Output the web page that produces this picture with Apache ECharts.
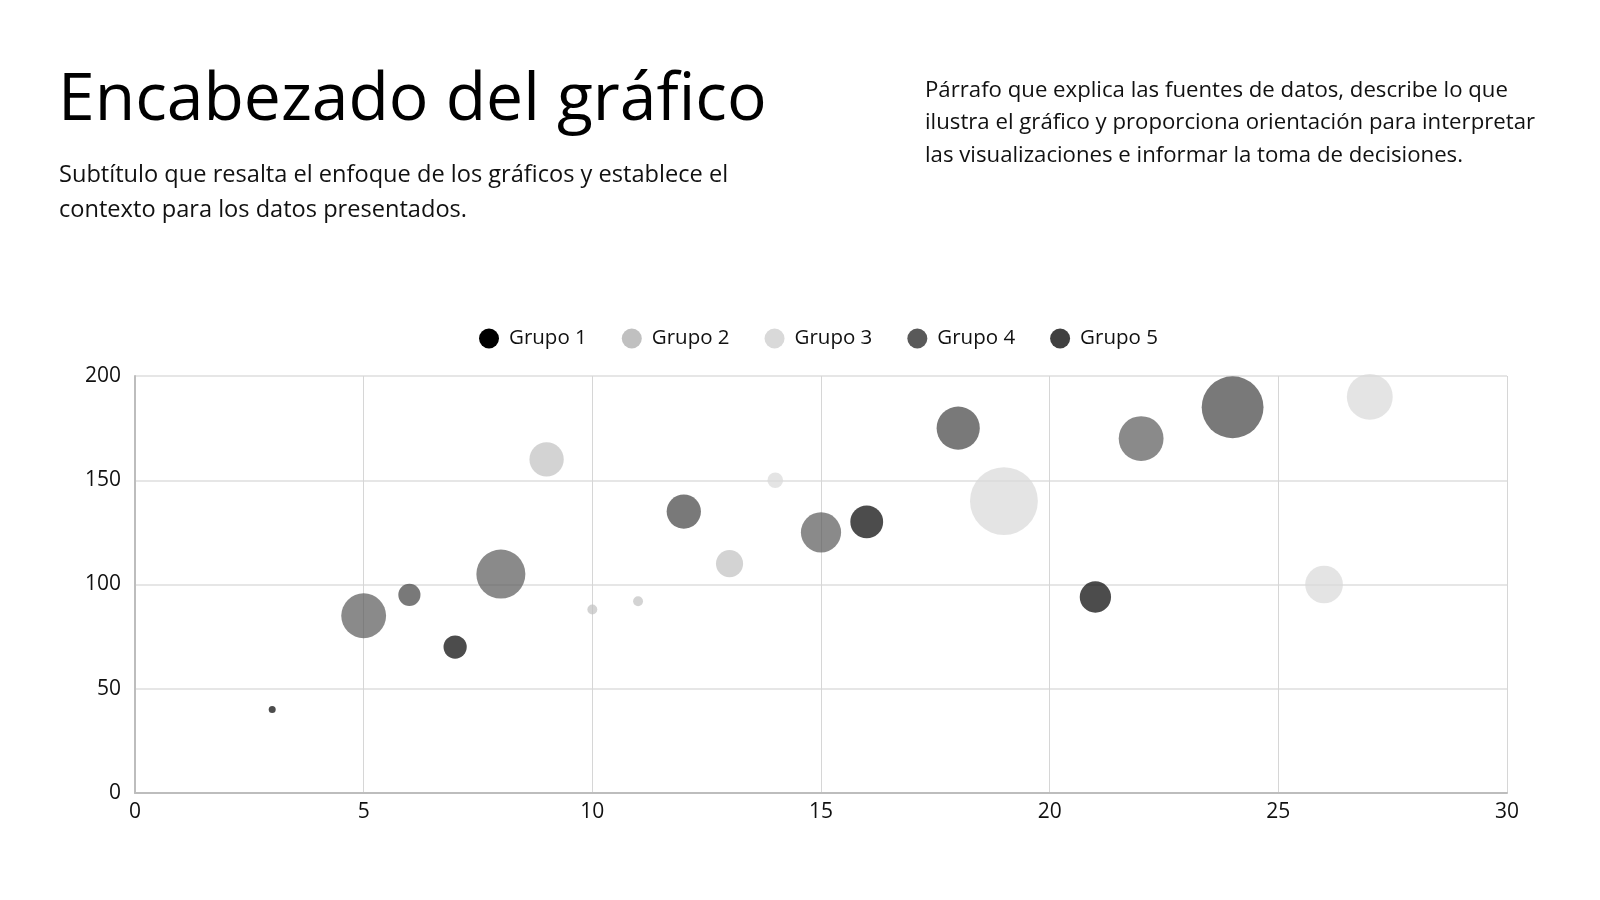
<!DOCTYPE html>
<html>
<head>
<meta charset="utf-8">
<script src="https://cdn.jsdelivr.net/npm/echarts@6/dist/echarts.min.js"></script>
<style>
  html, body { margin: 0; padding: 0; background: #fff; }
  #chart { width: 1600px; height: 900px; }
</style>
</head>
<body>
<div id="chart"></div>
<script>
// data: [x, y, size]
const groupNames = ["Grupo 1", "Grupo 2", "Grupo 3", "Grupo 4", "Grupo 5"];
const groupColors = ["#000000", "#c0c0c0", "#d9d9d9", "#595959", "#404040"];

const grupo1 = [[3, 40, 1], [7, 70, 11], [16, 130, 22], [21, 94, 20]];
const grupo2 = [[9, 160, 24], [10, 88, 2], [11, 92, 2], [13, 110, 15]];
const grupo3 = [[14, 150, 5], [19, 140, 94], [26, 100, 29], [27, 190, 43]];
const grupo4 = [[5, 85, 41], [8, 105, 49], [15, 125, 33], [22, 170, 41]];
const grupo5 = [[6, 95, 10], [12, 135, 24], [18, 175, 38], [24, 185, 78]];
const groups = [grupo1, grupo2, grupo3, grupo4, grupo5];

const xTicks = [0, 30, 5];   // min, max, interval
const yTicks = [0, 200, 50];

const font = "Open Sans";
const chart = echarts.init(document.getElementById("chart"));

chart.setOption({
  backgroundColor: "#fff",
  textStyle: { fontFamily: font },
  title: [
    {
      text: "Encabezado del gráfico",
      left: 53, top: 63,
      textStyle: { fontSize: 66, fontWeight: "normal", color: "#000", fontFamily: font }
    },
    {
      text: "Subtítulo que resalta el enfoque de los gráficos y establece el\ncontexto para los datos presentados.",
      left: 54, top: 153,
      textStyle: { fontSize: 23.6, lineHeight: 35, fontWeight: "normal", color: "#111", fontFamily: font }
    },
    {
      text: "Párrafo que explica las fuentes de datos, describe lo que\nilustra el gráfico y proporciona orientación para interpretar\nlas visualizaciones e informar la toma de decisiones.",
      left: 920, top: 69,
      textStyle: { fontSize: 22.2, lineHeight: 32.5, fontWeight: "normal", color: "#111", fontFamily: font }
    }
  ],
  legend: {
    top: 323,
    left: 474,
    icon: "circle",
    itemWidth: 20,
    itemHeight: 20,
    itemGap: 35,
    itemStyle: { opacity: 1 },
    textStyle: { fontSize: 20.5, color: "#111", fontFamily: font, padding: [0, 0, 0, 5] },
    data: groupNames
  },
  grid: { left: 135, right: 93, top: 376, bottom: 107 },
  xAxis: {
    type: "value",
    min: xTicks[0], max: xTicks[1], interval: xTicks[2],
    axisLine: { show: true, lineStyle: { color: "#bdbdbd", width: 2 } },
    axisTick: { show: false },
    splitLine: { show: true, lineStyle: { color: "#d6d6d6", width: 1 } },
    axisLabel: { fontSize: 21, color: "#111", margin: 9, fontFamily: font }
  },
  yAxis: {
    type: "value",
    min: yTicks[0], max: yTicks[1], interval: yTicks[2],
    axisLine: { show: true, lineStyle: { color: "#bdbdbd", width: 2 } },
    axisTick: { show: false },
    splitLine: { show: true, lineStyle: { color: "#dedede", width: 1.5 } },
    axisLabel: { fontSize: 21, color: "#111", margin: 14, fontFamily: font }
  },
  series: groups.map((g, i) => ({
    name: groupNames[i],
    type: "scatter",
    data: g,
    symbolSize: d => Math.sqrt(d[2]) * 7,
    itemStyle: { color: groupColors[i], opacity: 0.7 },
    emphasis: { disabled: true }
  }))
});
</script>
</body>
</html>
